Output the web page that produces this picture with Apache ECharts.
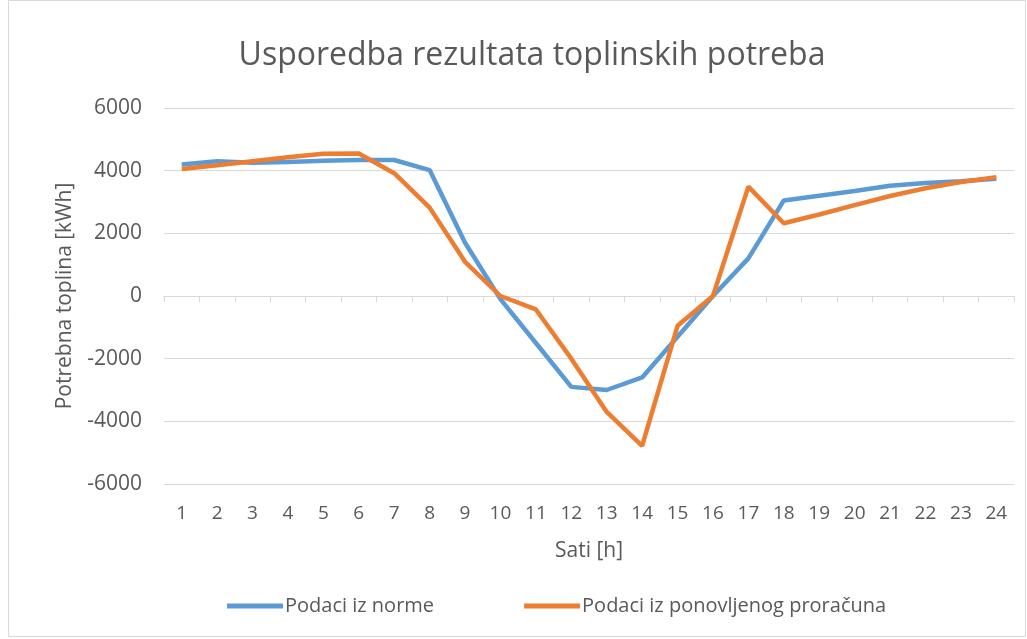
<!DOCTYPE html>
<html>
<head>
<meta charset="utf-8">
<script src="https://cdn.jsdelivr.net/npm/echarts@6/dist/echarts.min.js"></script>
<style>
  html, body { margin: 0; padding: 0; background: #fff; }
  #chart { width: 1027px; height: 639px; }
</style>
</head>
<body>
<div id="chart"></div>
<script>
// sati 1..24
var sati = ['1','2','3','4','5','6','7','8','9','10','11','12','13','14','15','16','17','18','19','20','21','22','23','24'];

// Podaci iz norme
var norma = [4200, 4300, 4250, 4280, 4320, 4340, 4340, 4020, 1700, -100, -1500, -2900,
             -3000, -2600, -1300, 0, 1200, 3050, 3200, 3350, 3520, 3610, 3660, 3740];

// Podaci iz ponovljenog proračuna
var proracun = [4050, 4170, 4300, 4430, 4540, 4550, 3920, 2820, 1090, 0, -430, -2000,
                -3700, -4780, -950, 0, 3490, 2320, 2600, 2900, 3190, 3440, 3640, 3790];

var yTicks = [-6000, 6000, 2000];

var font = 'Open Sans';
var grey = '#595959';

var chart = echarts.init(document.getElementById('chart'));

chart.setOption({
  animation: false,
  textStyle: { fontFamily: font },
  title: {
    text: 'Usporedba rezultata toplinskih potreba',
    left: 527, top: 35, textAlign: 'center',
    textStyle: { fontFamily: font, fontSize: 32, fontWeight: 'normal', color: grey }
  },
  graphic: [{
    type: 'rect',
    shape: { x: 8.5, y: 0.5, width: 1017, height: 636 },
    style: { fill: 'none', stroke: '#d9d9d9', lineWidth: 1 },
    silent: true
  }],
  legend: {
    left: 222, top: 591,
    itemWidth: 56, itemHeight: 5, itemGap: 90,
    icon: 'rect',
    textStyle: { fontFamily: font, fontSize: 20, color: grey, padding: [0, 0, 0, -3] },
    data: ['Podaci iz norme', 'Podaci iz ponovljenog proračuna']
  },
  grid: { left: 164, right: 13, top: 108, bottom: 155 },
  xAxis: [{
    type: 'category',
    data: sati,
    axisLine: { onZero: true, lineStyle: { color: '#d9d9d9', width: 1 } },
    axisTick: { show: true, length: 6, lineStyle: { color: '#d9d9d9' } },
    axisLabel: { show: false }
  }, {
    type: 'category',
    data: sati,
    position: 'bottom',
    axisLine: { show: false, onZero: false },
    axisTick: { show: false },
    axisLabel: { fontFamily: font, fontSize: 19, color: grey, margin: 20 },
    name: 'Sati [h]',
    nameLocation: 'middle',
    nameGap: 57,
    nameTextStyle: { fontFamily: font, fontSize: 21, color: grey }
  }],
  yAxis: {
    type: 'value',
    min: yTicks[0], max: yTicks[1], interval: yTicks[2],
    axisLine: { show: false },
    axisTick: { show: false },
    splitLine: { lineStyle: { color: '#d9d9d9', width: 1 } },
    axisLabel: {
      fontFamily: font, fontSize: 21, color: grey, margin: 22,
      formatter: function (v) { return String(v); }
    },
    name: 'Potrebna toplina [kWh]',
    nameLocation: 'middle',
    nameGap: 88,
    nameRotate: 90,
    nameTextStyle: { fontFamily: font, fontSize: 21, color: grey }
  },
  series: [{
    name: 'Podaci iz norme',
    type: 'line',
    data: norma,
    xAxisIndex: 0,
    symbol: 'none',
    color: '#5b9bd5',
    lineStyle: { width: 4.5, color: '#5b9bd5' }
  }, {
    name: 'Podaci iz ponovljenog proračuna',
    type: 'line',
    data: proracun,
    xAxisIndex: 0,
    symbol: 'none',
    color: '#ed7d31',
    lineStyle: { width: 4.5, color: '#ed7d31' }
  }]
});
</script>
</body>
</html>
